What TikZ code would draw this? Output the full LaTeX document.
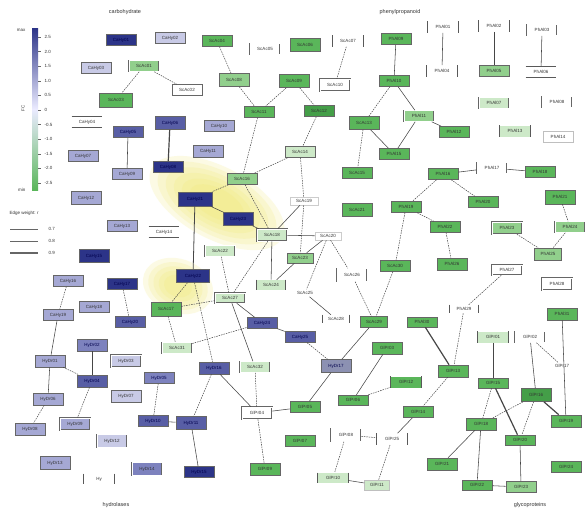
\documentclass[tikz,border=0pt]{standalone}
\usepackage{fontspec}
\setmainfont{Liberation Sans}
\definecolor{dkblue}{RGB}{44,52,136}
\definecolor{mdblue}{RGB}{88,94,165}
\definecolor{mdpurp}{RGB}{125,130,190}
\definecolor{ltpurp}{RGB}{165,168,212}
\definecolor{vltpurp}{RGB}{200,202,230}
\definecolor{slate}{RGB}{140,145,178}
\definecolor{grn}{RGB}{90,182,90}
\definecolor{dkgrn}{RGB}{68,158,72}
\definecolor{ltgrn}{RGB}{145,207,140}
\definecolor{vltgrn}{RGB}{205,233,200}
\definecolor{glow}{RGB}{240,232,110}
\definecolor{edgec}{RGB}{70,70,70}
\begin{document}
\begin{tikzpicture}[x=1pt,y=-1pt,
  nf/.style={font=\fontsize{4.5}{5}\selectfont},
  bx/.style={draw=black!60, line width=0.55pt, minimum width=30pt, minimum height=11pt, inner sep=0pt, nf, text=black!80},
  dbx/.style={bx, double=white, double distance=0.6pt},
  dk/.style={bx, text=blue!30!black},
  brk/.style={bx, draw=none, fill=white},
  tb/.style={bx, draw=none, fill=white},
  txt/.style={bx, draw=black!20, fill=white},
  sidel/.style={draw=black!65, line width=0.7pt},
  dsh/.style={draw=edgec, line width=0.5pt, dash pattern=on 1.5pt off 1pt},
  sol/.style={draw=edgec, line width=0.55pt},
  thk/.style={draw=edgec, line width=1.2pt},
  hd/.style={font=\fontsize{5.5}{6}\selectfont, text=black!80},
  lg/.style={font=\fontsize{4.5}{5}\selectfont, text=black!80}
]
\useasboundingbox (0,0) rectangle (587,512);
\fill[white] (0,0) rectangle (587,512);

% yellow highlights
\begin{scope}[shift={(217,203)}, rotate=-28]
\foreach \s in {1.0,0.88,0.76,0.64,0.52,0.4}
  \fill[glow, opacity=0.18] (0,0) ellipse [x radius=\s*74pt, y radius=\s*36pt];
\end{scope}
\begin{scope}[shift={(178,286)}, rotate=-20]
\foreach \s in {1.0,0.85,0.7,0.55,0.4}
  \fill[glow, opacity=0.18] (0,0) ellipse [x radius=\s*36pt, y radius=\s*27pt];
\end{scope}

% headings
\node[hd] (h1) at (125,12) {carbohydrate};
\node[hd] (h2) at (400,12) {phenylpropanoid};
\node[hd] (h3) at (116,505) {hydrolases};
\node[hd] (h4) at (530,505) {glycoproteins};

% colour bar legend
\shade[top color=dkblue, bottom color=grn, middle color=blue!8!white] (32,28) rectangle (38,190);
\node[lg, anchor=east] (lmax) at (29,30) {max};
\node[lg, anchor=east] (lmin) at (29,190) {min};
\node[lg, rotate=90] (lfc) at (23,108) {FC};
\foreach \v [count=\i from 0] in {2.5,2.0,1.5,1.0,0.5,0,-0.5,-1.0,-1.5,-2.0,-2.5}{
  \draw[black!60, line width=0.4pt] (38,37+\i*14.6) -- (41,37+\i*14.6);
  \node[lg, anchor=west] at (41,37+\i*14.6) {\v};
}
% edge weight legend
\node[lg, anchor=west] (ew) at (6,213) {Edge weight: r};
\coordinate (ea1) at (10,229); \coordinate (eb1) at (38,229);
\coordinate (ea2) at (10,241); \coordinate (eb2) at (38,241);
\coordinate (ea3) at (10,253); \coordinate (eb3) at (38,253);
\draw[black!60, line width=0.4pt] (ea1) -- (eb1);
\draw[black!60, line width=0.8pt] (ea2) -- (eb2);
\draw[black!60, line width=1.4pt] (ea3) -- (eb3);
\node[lg, anchor=west] at (45,229) {0.7};
\node[lg, anchor=west] at (45,241) {0.8};
\node[lg, anchor=west] at (45,253) {0.9};

% ---------- nodes: carbohydrate cluster
\node[dk, fill=dkblue] (A1) at (121,40) {CaHy01};
\node[bx, fill=vltpurp, line width=0.9pt] (A2) at (170,38) {CaHy02};
\node[bx, fill=vltpurp] (A3) at (96,68) {CaHy03};
\node[dbx, fill=ltgrn] (A4) at (144,66) {ScAc01};
\node[bx, fill=white] (A5) at (187,90) {ScAc02};
\node[bx, fill=grn, minimum height=14pt, minimum width=33pt] (A6) at (116,100) {ScAc03};
\node[tb] (A7) at (87,122) {CaHy04};
\node[dk, fill=mdblue] (A8) at (128,132) {CaHy05};
\node[dk, fill=mdblue, minimum height=13pt] (A9) at (170,123) {CaHy06};
\node[bx, fill=ltpurp] (A10) at (83,156) {CaHy07};
\node[dk, fill=dkblue] (A11) at (168,167) {CaHy08};
\node[bx, fill=ltpurp] (A12) at (127,174) {CaHy09};

\node[bx, fill=grn] (B1) at (217,41) {ScAc04};
\node[dbx, fill=white] (B2) at (265,49) {ScAc05};
\node[bx, fill=grn, minimum height=13pt] (B3) at (305,45) {ScAc06};
\node[brk] (B4) at (348,41) {ScAc07};
\node[bx, fill=ltgrn, minimum height=13pt] (B5) at (234,80) {ScAc08};
\node[bx, fill=grn, minimum height=13pt] (B6) at (294,81) {ScAc09};
\node[dbx, fill=white, minimum height=12pt] (B7) at (335,85) {ScAc10};
\node[bx, fill=grn] (B8) at (259,112) {ScAc11};
\node[bx, fill=dkgrn, line width=0.8pt] (B9) at (319,111) {ScAc12};
\node[bx, fill=grn, minimum height=13pt] (B10) at (364,123) {ScAc13};
\node[bx, fill=ltpurp] (B11) at (219,126) {CaHy10};
\node[bx, fill=ltpurp, minimum height=12pt] (B12) at (208,151) {CaHy11};
\node[bx, fill=vltgrn] (B13) at (300,152) {ScAc14};
\node[bx, fill=grn] (B14) at (357,173) {ScAc15};
\node[bx, fill=ltgrn] (B15) at (242,179) {ScAc16};

% ---------- phenylpropanoid cluster
\node[brk] (C1) at (443,27) {PhAl01};
\node[brk] (C2) at (494,26) {PhAl02};
\node[dbx, fill=white] (C3) at (542,30) {PhAl03};
\node[brk] (C4) at (442,71) {PhAl04};
\node[bx, fill=ltgrn] (C5) at (494,71) {PhAl05};
\node[tb] (C6) at (541,72) {PhAl06};
\node[dbx, fill=vltgrn] (C7) at (494,103) {PhAl07};
\node[dbx, fill=white] (C8) at (557,102) {PhAl08};
\node[bx, fill=grn] (C9) at (396,39) {PhAl09};
\node[bx, fill=grn] (C10) at (394,81) {PhAl10};
\node[dbx, fill=ltgrn] (C11) at (419,116) {PhAl11};
\node[bx, fill=grn] (C12) at (454,132) {PhAl12};
\node[brk, fill=vltgrn] (C13) at (515,131) {PhAl13};
\node[bx, fill=white, draw=black!25] (C14) at (558,137) {PhAl14};
\node[bx, fill=grn] (C15) at (394,154) {PhAl15};
\node[bx, fill=grn] (C16) at (443,174) {PhAl16};
\node[dbx, fill=white] (C17) at (492,168) {PhAl17};
\node[bx, fill=grn] (C18) at (540,172) {PhAl18};

% ---------- middle left
\node[bx, fill=ltpurp, minimum height=13pt] (D1) at (86,198) {CaHy12};
\node[bx, fill=ltpurp] (D2) at (122,226) {CaHy13};
\node[tb] (D3) at (164,232) {CaHy14};
\node[dk, fill=dkblue, minimum height=13pt] (D4) at (94,256) {CaHy15};
\node[bx, fill=ltpurp] (D5) at (68,281) {CaHy16};
\node[dk, fill=dkblue] (D6) at (122,284) {CaHy17};
\node[bx, fill=ltpurp] (D7) at (94,307) {CaHy18};
\node[bx, fill=ltpurp] (D8) at (58,315) {CaHy19};
\node[dk, fill=mdblue] (D9) at (130,322) {CaHy20};
\node[dk, fill=dkblue, minimum height=14pt, minimum width=34pt] (D10) at (195,199) {CaHy21};
\node[dk, fill=dkblue, minimum height=13pt, minimum width=33pt] (D11) at (193,276) {CaHy22};
\node[bx, fill=grn, minimum height=14pt] (D12) at (166,309) {ScAc17};

% ---------- centre
\node[dk, fill=dkblue, minimum height=13pt] (E3) at (238,219) {CaHy23};
\node[dbx, fill=vltgrn, minimum height=12pt] (E4) at (272,235) {ScAc18};
\node[txt, minimum height=8pt, minimum width=28pt] (E5) at (304,201) {ScAc19};
\node[txt, minimum height=8pt, minimum width=26pt] (E6) at (328,236) {ScAc20};
\node[bx, fill=grn, minimum height=13pt] (E8) at (357,210) {ScAc21};
\node[dbx, fill=vltgrn] (E9) at (220,251) {ScAc22};
\node[bx, fill=ltgrn, minimum width=26pt, minimum height=10pt] (E10) at (300,258) {ScAc23};
\node[brk, fill=vltgrn, minimum width=28pt, minimum height=10pt] (E11) at (271,285) {ScAc24};
\node[txt, draw=none, minimum height=7pt, minimum width=24pt] (E12) at (305,293) {ScAc25};
\node[dbx, fill=white, minimum height=13pt] (E13) at (352,275) {ScAc26};
\node[dbx, fill=vltgrn, minimum height=10pt] (E14) at (230,298) {ScAc27};
\node[dk, fill=mdblue] (E15) at (262,323) {CaHy24};
\node[dk, fill=mdblue] (E16) at (300,337) {CaHy25};
\node[brk, minimum width=27pt, minimum height=8pt] (E17) at (336,319) {ScAc28};
\node[bx, fill=grn, minimum width=27pt] (E18) at (374,322) {ScAc29};
\node[bx, fill=grn] (E19) at (395,266) {ScAc30};

% ---------- right middle
\node[bx, fill=grn] (F4) at (406,207) {PhAl19};
\node[bx, fill=grn] (F5) at (483,202) {PhAl20};
\node[bx, fill=grn, minimum height=14pt] (F6) at (560,197) {PhAl21};
\node[bx, fill=grn] (F7) at (445,227) {PhAl22};
\node[dbx, fill=ltgrn, minimum height=12pt] (F8) at (507,228) {PhAl23};
\node[dbx, fill=ltgrn] (F9) at (570,227) {PhAl24};
\node[bx, fill=ltgrn, minimum width=27pt, minimum height=12pt] (F10) at (548,254) {PhAl25};
\node[bx, fill=grn, minimum height=12pt] (F12) at (452,264) {PhAl26};
\node[dbx, fill=white, minimum height=10pt] (F13) at (507,270) {PhAl27};
\node[dbx, fill=white, minimum height=12pt] (F14) at (557,284) {PhAl28};
\node[brk, minimum width=28pt, minimum height=8pt] (F15) at (464,309) {PhAl29};
\node[bx, fill=grn, minimum height=10pt] (F16) at (422,322) {PhAl30};
\node[bx, fill=grn, minimum height=12pt] (F17) at (562,314) {PhAl31};
\node[brk, fill=vltgrn] (F18) at (493,337) {GlPr01};
\node[dbx, fill=white] (F19) at (530,337) {GlPr02};

% ---------- hydrolases cluster
\node[bx, fill=ltpurp, minimum height=12pt] (G1) at (50,361) {HyDr01};
\node[dk, fill=mdpurp, minimum height=12pt] (G2) at (92,345) {HyDr02};
\node[dbx, fill=vltpurp, minimum height=12pt] (G3) at (126,361) {HyDr03};
\node[dk, fill=mdblue, minimum height=12pt] (G4) at (92,381) {HyDr04};
\node[dk, fill=mdpurp] (G5) at (159,378) {HyDr05};
\node[bx, fill=ltpurp, minimum height=12pt] (G6) at (48,399) {HyDr06};
\node[bx, fill=vltpurp, minimum height=12pt] (G7) at (126,396) {HyDr07};
\node[bx, fill=ltpurp, minimum height=12pt] (G8) at (30,429) {HyDr08};
\node[dbx, fill=ltpurp, minimum height=12pt] (G9) at (75,424) {HyDr09};
\node[dk, fill=mdblue] (G10) at (153,421) {HyDr10};
\node[dk, fill=mdblue, minimum height=13pt] (G11) at (191,423) {HyDr11};
\node[dbx, fill=vltpurp, minimum height=13pt] (G12) at (112,441) {HyDr12};
\node[bx, fill=ltpurp, minimum height=13pt] (G13) at (55,463) {HyDr13};
\node[dbx, fill=mdpurp, minimum height=13pt] (G14) at (147,469) {HyDr14};
\node[dk, fill=dkblue] (G15) at (199,472) {HyDr15};
\node[brk, minimum height=10pt] (G16) at (99,479) {Hy};
\node[dbx, fill=vltgrn] (G17) at (177,348) {ScAc31};

% ---------- lower centre
\node[dk, fill=mdblue, minimum height=12pt] (H2) at (214,368) {HyDr16};
\node[dbx, fill=vltgrn] (H3) at (255,367) {ScAc32};
\node[dk, fill=slate, minimum height=13pt] (H4) at (336,366) {HyDr17};
\node[bx, fill=grn, minimum height=12pt] (H5) at (387,348) {GlPr03};
\node[dbx, fill=white, minimum height=12pt] (H6) at (257,413) {GlPr04};
\node[bx, fill=grn] (H7) at (305,407) {GlPr05};
\node[bx, fill=grn, minimum height=10pt] (H8) at (353,400) {GlPr06};
\node[bx, fill=grn] (H10) at (300,441) {GlPr07};
\node[dbx, fill=white, minimum height=13pt] (H11) at (346,435) {GlPr08};
\node[bx, fill=grn, minimum height=12pt] (H12) at (265,469) {GlPr09};
\node[brk, fill=vltgrn, minimum height=10pt] (H14) at (333,478) {GlPr10};
\node[bx, fill=vltgrn, draw=black!25, minimum width=25pt, minimum height=10pt] (H15) at (377,485) {GlPr11};

% ---------- glycoproteins cluster
\node[brk, fill=grn, minimum height=11pt] (I2) at (406,382) {GlPr12};
\node[bx, fill=grn, minimum height=12pt] (I3) at (453,371) {GlPr13};
\node[bx, fill=grn] (I4) at (418,412) {GlPr14};
\node[bx, fill=grn, minimum height=10pt] (I7) at (493,383) {GlPr15};
\node[bx, fill=dkgrn, line width=0.8pt, minimum height=13pt] (I8) at (536,395) {GlPr16};
\node[txt, draw=none, minimum width=20pt, minimum height=7pt] (I9) at (562,366) {GlPr17};
\node[bx, fill=grn, minimum height=12pt] (I10) at (481,424) {GlPr18};
\node[bx, fill=grn, minimum height=12pt] (I11) at (566,421) {GlPr19};
\node[bx, fill=grn, minimum height=10pt] (I12) at (520,440) {GlPr20};
\node[bx, fill=grn, minimum height=12pt] (I13) at (442,464) {GlPr21};
\node[bx, fill=grn, minimum height=10pt] (I14) at (477,485) {GlPr22};
\node[bx, fill=ltgrn, minimum height=11pt] (I15) at (521,487) {GlPr23};
\node[bx, fill=grn, minimum height=11pt] (I16) at (566,467) {GlPr24};
\node[brk, minimum height=11pt] (I17) at (392,439) {GlPr25};

% bracket and top/bottom rules
\foreach \n in {B4,C1,C2,C4,C13,E11,E17,F15,F18,G16,H14,I2,I17}
  \draw[sidel] (\n.north west) -- (\n.south west) (\n.north east) -- (\n.south east);
\foreach \n in {A7,C6,D3}
  \draw[sidel] (\n.north west) -- (\n.north east) (\n.south west) -- (\n.south east);

% ---------- edges
\draw[dsh] (A4) -- (A6);
\draw[dsh] (A4) -- (A5);
\draw[thk] (A9) -- (A11);
\draw[sol] (A8) -- (A12);
\draw[dsh] (B1) -- (B5);
\draw[dsh] (B5) -- (B8);
\draw[dsh] (B6) -- (B8);
\draw[dsh] (B6) -- (B9);
\draw[dsh] (B8) -- (B15);
\draw[dsh] (B9) -- (B13);
\draw[dsh] (B13) -- (B15);
\draw[dsh] (B13) -- (E5);
\draw[dsh] (B4) -- (B7);
\draw[dsh] (B10) -- (B14);
\draw[dsh] (B10) -- (C10);
\draw[sol] (B10) -- (C15);
\draw[sol] (C1) -- (C4);
\draw[sol] (C2) -- (C5);
\draw[sol] (C3) -- (C6);
\draw[sol] (C9) -- (C10);
\draw[sol] (C10) -- (C11);
\draw[sol] (C11) -- (C12);
\draw[sol] (C11) -- (C15);
\draw[sol] (C16) -- (C17);
\draw[sol] (C17) -- (C18);
\draw[thk, line width=0.8pt] (D10) -- (D11);
\draw[dsh] (D5) -- (D8);
\draw[dsh] (D6) -- (D9);
\draw[dsh] (D11) -- (D12);
\draw[dsh] (D12) -- (E14);
\draw[dsh] (D12) -- (G17);
\draw[sol] (D8) -- (G1);
\draw[dsh] (B15) -- (D10);
\draw[dsh] (B15) -- (E4);
\draw[sol] (D10) -- (E3);
\draw[sol] (E3) -- (E4);
\draw[sol] (E4) -- (E5);
\draw[sol] (E4) -- (E6);
\draw[dsh] (E5) -- (E10);
\draw[sol] (E6) -- (E10);
\draw[dsh] (E6) -- (E12);
\draw[dsh] (E6) -- (E13);
\draw[dsh] (E13) -- (E18);
\draw[dsh] (E19) -- (E18);
\draw[sol] (E10) -- (E11);
\draw[sol] (E4) -- (E11);
\draw[dsh] (E4) -- (E14);
\draw[dsh] (E9) -- (E14);
\draw[sol] (E12) -- (E17);
\draw[sol] (E14) -- (E15);
\draw[sol] (E14) -- (H3);
\draw[sol] (E15) -- (E16);
\draw[dsh] (D11) -- (H2);
\draw[dsh] (G17) -- (E15);
\draw[dsh] (C16) -- (F4);
\draw[dsh] (C16) -- (F5);
\draw[dsh] (F4) -- (F7);
\draw[dsh] (F4) -- (E19);
\draw[dsh] (F7) -- (F12);
\draw[dsh] (F6) -- (F9);
\draw[dsh] (F8) -- (F10);
\draw[dsh] (F9) -- (F10);
\draw[dsh] (F13) -- (F15);
\draw[dsh] (F15) -- (I3);
\draw[thk] (F16) -- (I3);
\draw[sol] (F17) -- (I11);
\draw[dsh] (G1) -- (G4);
\draw[sol] (G2) -- (G4);
\draw[sol] (G1) -- (G6);
\draw[dsh] (G6) -- (G8);
\draw[dsh] (G4) -- (G9);
\draw[dsh] (G5) -- (G10);
\draw[sol] (G10) -- (G11);
\draw[sol] (G11) -- (G15);
\draw[dsh] (E16) -- (H4);
\draw[sol] (H4) -- (E18);
\draw[sol] (H2) -- (H6);
\draw[dsh] (H3) -- (H6);
\draw[dsh] (H2) -- (G11);
\draw[sol] (H6) -- (H7);
\draw[sol] (H4) -- (H7);
\draw[dsh] (H6) -- (H12);
\draw[sol] (H5) -- (H8);
\draw[dsh] (H8) -- (I2);
\draw[dsh] (H11) -- (H14);
\draw[sol] (H14) -- (H15);
\draw[dsh] (H11) -- (I17);
\draw[dsh] (H15) -- (I17);
\draw[sol] (I4) -- (I17);
\draw[dsh] (I3) -- (I4);
\draw[sol] (F18) -- (I7);
\draw[sol] (F19) -- (I8);
\draw[dsh] (F19) -- (I9);
\draw[dsh] (I7) -- (I10);
\draw[thk] (I7) -- (I12);
\draw[dsh] (I8) -- (I10);
\draw[dsh] (I8) -- (I12);
\draw[thk] (I8) -- (I11);
\draw[sol] (I10) -- (I13);
\draw[sol] (I10) -- (I14);
\draw[sol] (I12) -- (I15);
\draw[sol] (I14) -- (I15);
\end{tikzpicture}
\end{document}
